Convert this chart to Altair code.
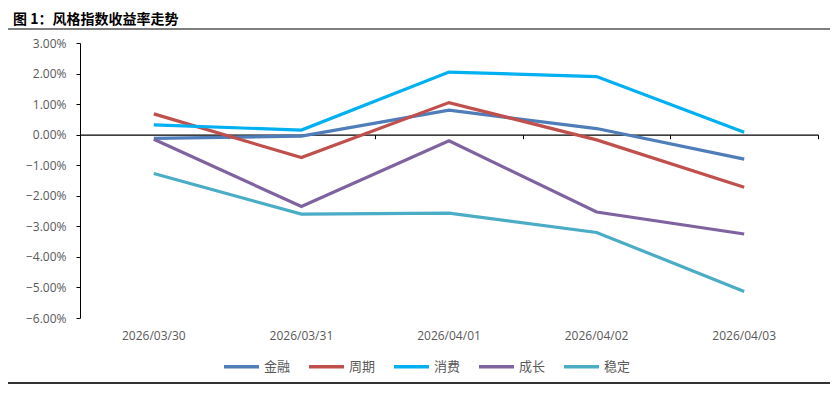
import altair as alt
import pandas as pd

dates = ["2026/03/30", "2026/03/31", "2026/04/01", "2026/04/02", "2026/04/03"]
series = ["金融", "周期", "消费", "成长", "稳定"]
jinrong = [-0.0012, -0.0005, 0.0080, 0.0020, -0.0080]
zhouqi = [0.0068, -0.0075, 0.0105, -0.0017, -0.0172]
xiaofei = [0.0032, 0.0015, 0.0205, 0.0190, 0.0008]
chengzhang = [-0.0015, -0.0235, -0.0020, -0.0253, -0.0325]
wending = [-0.0127, -0.0260, -0.0257, -0.0320, -0.0513]
colors = ["#4F7DBA", "#C0504D", "#00B0F0", "#7F62A0", "#4BACC6"]
title_text = "图 1：风格指数收益率走势"

values = [jinrong, zhouqi, xiaofei, chengzhang, wending]
rows = []
for s, vals in zip(series, values):
    for d, v in zip(dates, vals):
        rows.append({"date": d, "series": s, "value": v})
df = pd.DataFrame(rows)

W, H = 738, 275
FONT = "Noto Sans CJK SC"

lines = alt.Chart(df).mark_line(strokeWidth=3.2).encode(
    x=alt.X("date:N", sort=dates, title=None,
            axis=alt.Axis(orient="bottom", labelAngle=0, domain=False, ticks=False, labelPadding=12,
                          labelFontSize=12, labelColor="#595959", labelFont="Open Sans")),
    y=alt.Y("value:Q", title=None,
            scale=alt.Scale(domain=[-0.06, 0.03], nice=False),
            axis=alt.Axis(format=".2%", values=[0.03, 0.02, 0.01, 0, -0.01, -0.02, -0.03, -0.04, -0.05, -0.06],
                          grid=False, domainColor="#000000", tickColor="#000000", tickSize=4,
                          labelPadding=10, labelFontSize=12, labelColor="#595959", labelFont="Open Sans")),
    color=alt.Color("series:N", sort=series,
                    scale=alt.Scale(domain=series, range=colors),
                    legend=alt.Legend(title=None, orient="none", direction="horizontal",
                                      legendX=142, legendY=304,
                                      symbolType="stroke", symbolSize=1225, symbolStrokeWidth=3.5,
                                      labelFontSize=13, labelColor="#595959", labelFont=FONT,
                                      columnPadding=11, labelOffset=3)),
    order=alt.Order("series:N"),
)

zero_axis = alt.Chart(df).mark_tick(opacity=0).encode(
    x=alt.X("date:N", sort=dates, title=None,
            axis=alt.Axis(orient="bottom", labels=False, domain=True, domainColor="#000000",
                          domainWidth=1.2, ticks=True, tickBand="extent", tickColor="#000000",
                          tickSize=4, offset=-(H * 6 / 9))),
)

title_df = pd.DataFrame({"t": [title_text]})
title_mark = alt.Chart(title_df).mark_text(
    align="left", baseline="middle", fontSize=14, fontWeight="bold", font=FONT, color="#000000"
).encode(text="t:N", x=alt.value(-67), y=alt.value(-23))

top_rule = alt.Chart(title_df).mark_rule(color="#000000", strokeWidth=1.2).encode(
    x=alt.value(-77), x2=alt.value(750), y=alt.value(-14))
bottom_rule = alt.Chart(title_df).mark_rule(color="#333333", strokeWidth=2).encode(
    x=alt.value(-77), x2=alt.value(750), y=alt.value(340))

chart = alt.layer(lines, zero_axis, title_mark, top_rule, bottom_rule).resolve_axis(
    x="independent"
).properties(
    width=W, height=H,
    autosize=alt.AutoSizeParams(type="none"),
    padding={"left": 72, "top": 35, "right": 12, "bottom": 66},
).configure_view(stroke=None)

chart.save("out.html", embed_options={"renderer": "svg", "actions": False})
